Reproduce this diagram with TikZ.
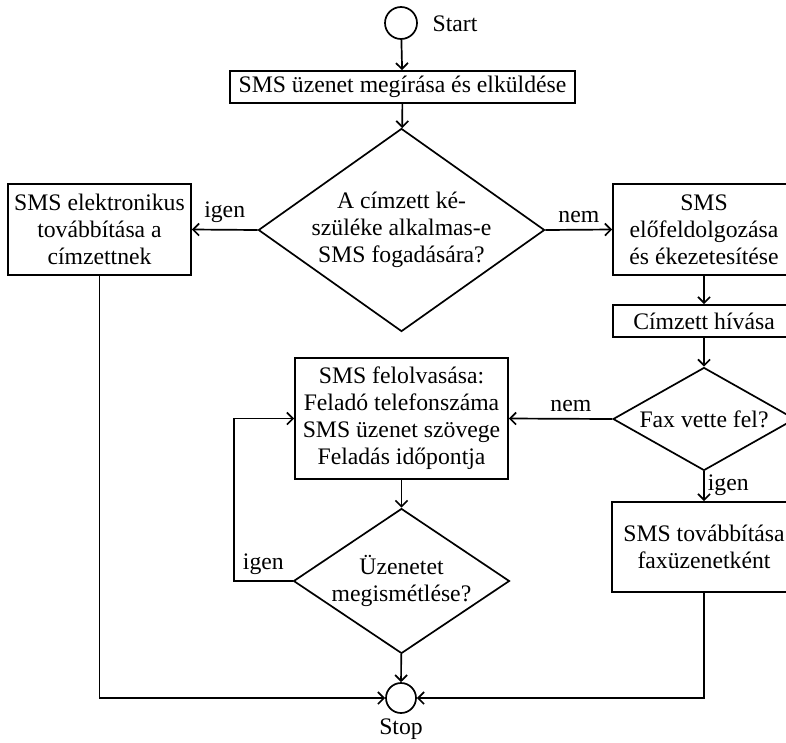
\documentclass[tikz,border=0pt]{standalone}
\usepackage{fontspec}
\setmainfont{Liberation Serif}
\usetikzlibrary{shapes.geometric,arrows.meta}
\begin{document}
\begin{tikzpicture}[x=1pt,y=-1pt,
  every node/.style={font=\fontsize{23.7}{27}\selectfont},
  box/.style={draw,line width=1.7pt,rectangle,inner sep=0pt,align=center},
  decision/.style={draw,line width=1.7pt,diamond,inner sep=0pt,align=center},
  term/.style={draw,line width=1.7pt,circle,inner sep=0pt},
  lbl/.style={inner sep=0pt},
  arr/.style={line width=1.7pt,-{Straight Barb[length=6pt,width=12pt,line width=1.7pt]}}]
\useasboundingbox (0,0) rectangle (786,742);
\clip (0,0) rectangle (786,742);

% terminals
\node[term,minimum size=32pt] (start) at (401,23) {};
\node[lbl] (startlbl) at (455,24) {Start};
\node[term,minimum size=30pt] (stop) at (401,698) {};
\node[lbl] (stoplbl) at (401,729) {Stop};

% process boxes
\node[box,minimum width=345pt,minimum height=32pt] (send) at (402.5,87)
  {SMS üzenet megírása és elküldése};
\node[box,minimum width=183pt,minimum height=91pt] (elec) at (99.5,229.5)
  {SMS elektronikus\\továbbítása a\\címzettnek};
\node[box,minimum width=182pt,minimum height=91pt] (pre) at (704,229.5)
  {SMS\\előfeldolgozása\\és ékezetesítése};
\node[box,minimum width=182pt,minimum height=32pt] (call) at (704,321)
  {Címzett hívása};
\node[box,minimum width=213pt,minimum height=121pt] (read) at (401.5,418.5)
  {SMS felolvasása:\\Feladó telefonszáma\\SMS üzenet szövege\\Feladás időpontja};
\node[box,minimum width=184pt,minimum height=90pt] (faxsend) at (704,547)
  {SMS továbbítása\\faxüzenetként};

% decisions
\node[decision,aspect=1.41,minimum width=277pt,minimum height=196pt] (q1) at (401.5,230)
  {A címzett ké-\\szüléke alkalmas-e\\SMS fogadására?};
\node[decision,aspect=1.77,minimum width=182pt,minimum height=103pt] (fax) at (704,419)
  {Fax vette fel?};
\node[decision,aspect=1.49,minimum width=211pt,minimum height=142pt] (repeat) at (401.5,581)
  {Üzenetet\\megismétlése?};

% connectors
\draw[arr] (start) -- (send);
\draw[arr] (send) -- (q1);
\draw[arr] (q1.west) -- node[lbl,above=6pt] {igen} (elec.east);
\draw[arr] (q1.east) -- node[lbl,above=6pt] {nem} (pre.west);
\draw[arr] (pre) -- (call);
\draw[arr] (call) -- (fax);
\draw[arr] (fax.west) -- node[lbl,above=6pt,pos=0.4] {nem} (read.east);
\draw[arr] (fax.south) -- node[lbl,right=3pt,pos=0.45] {igen} (faxsend.north);
\draw[arr] (read) -- (repeat);
\coordinate (loop) at (234,581);
\draw[arr] (repeat.west) -- node[lbl,above=6pt] {igen} (loop) |- (read.west);
\draw[arr] (repeat) -- (stop);
\draw[arr] (elec.south) |- (stop.west);
\draw[arr] (faxsend.south) |- (stop.east);
\end{tikzpicture}
\end{document}
